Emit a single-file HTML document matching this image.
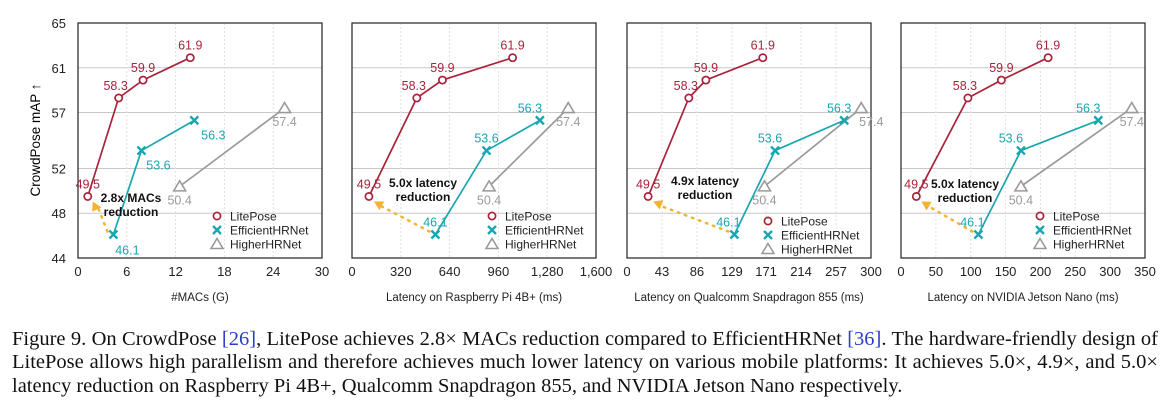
<!DOCTYPE html>
<html><head><meta charset="utf-8"><style>
html,body{margin:0;padding:0;background:#fff;width:1168px;height:408px;overflow:hidden}
svg text{font-family:"Liberation Sans",sans-serif}
#cap{position:absolute;left:12px;top:328px;width:1146px;font-family:"Liberation Serif",serif;font-size:20.5px;line-height:23.3px;color:#111}
#cap div{text-align:justify;text-align-last:justify;white-space:nowrap}
#cap div.last{text-align-last:left}
#cap a{color:#2a3ec8;text-decoration:none}
</style></head><body>
<svg id="chart" width="1168" height="320" style="position:absolute;left:0;top:0"></svg>
<div id="cap"><div>Figure 9. On CrowdPose <a>[26]</a>, LitePose achieves 2.8× MACs reduction compared to EfficientHRNet <a>[36]</a>. The hardware-friendly design of</div><div>LitePose allows high parallelism and therefore achieves much lower latency on various mobile platforms: It achieves 5.0×, 4.9×, and 5.0×</div><div class="last">latency reduction on Raspberry Pi 4B+, Qualcomm Snapdragon 855, and NVIDIA Jetson Nano respectively.</div></div>
<script>
const yLite=[49.5,58.3,59.9,61.9];
const yEff=[46.1,53.6,56.3];
const yHigh=[50.4,57.4];
const yTicks=[65,61,57,52,48,44];
const xLite1=[1.2,5.0,8.0,13.8], xEff1=[4.35,7.8,14.3], xHigh1=[12.5,25.4];
const xLite2=[111,425,593,1053], xEff2=[547,882,1232], xHigh2=[899,1418];
const xLite3=[26,76,97,167], xEff3=[132,182,267], xHigh3=[169,288];
const xLite4=[22,96,144,211], xEff4=[111,172,283], xHigh4=[172,331];
const xTicks1=[0,6,12,18,24,30], xTicks2=[0,320,640,960,1280,1600];
const xTicks3=[0,43,86,129,171,214,257,300], xTicks4=[0,50,100,150,200,250,300,350];
const xTickLabels2=["0","320","640","960","1,280","1,600"];
const titles=["#MACs (G)","Latency on Raspberry Pi 4B+ (ms)","Latency on Qualcomm Snapdragon 855 (ms)","Latency on NVIDIA Jetson Nano (ms)"];
const notes=[["2.8x MACs","reduction"],["5.0x latency","reduction"],["4.9x latency","reduction"],["5.0x latency","reduction"]];

const C={lite:"#a8243b",eff:"#1aa6b0",high:"#9a9a9a",arr:"#f2b330"};
const svg=document.getElementById('chart');
const NS="http://www.w3.org/2000/svg";
function mk(tag,at,parent){const e=document.createElementNS(NS,tag);for(const k in at)e.setAttribute(k,at[k]);(parent||svg).appendChild(e);return e;}
function txt(s,at,parent){const e=mk('text',at,parent);e.textContent=s;return e;}
const Y0=23,Y1=258,YMIN=44,YMAX=65;
const ys=v=>Y0+(YMAX-v)/(YMAX-YMIN)*(Y1-Y0);

const panels=[
 {x0:78,x1:322,max:30,ticks:xTicks1,labels:xTicks1.map(String),lite:xLite1,eff:xEff1,high:xHigh1,
  effOff:[[14,16],[17,15],[19,15]],highOff:[[0,18],[0,18]],note:[131,202],leg:[217,216]},
 {x0:352,x1:596,max:1600,ticks:xTicks2,labels:xTickLabels2,lite:xLite2,eff:xEff2,high:xHigh2,
  effOff:[[0,-12],[0,-12],[-10,-12]],highOff:[[0,18],[0,18]],note:[423,187],leg:[492,216]},
 {x0:627,x1:871,max:300,ticks:xTicks3,labels:xTicks3.map(String),lite:xLite3,eff:xEff3,high:xHigh3,
  effOff:[[-6,-12],[-5,-12],[-5,-12]],highOff:[[0,18],[10,18]],note:[705,185],leg:[768,221]},
 {x0:901,x1:1145,max:350,ticks:xTicks4,labels:xTicks4.map(String),lite:xLite4,eff:xEff4,high:xHigh4,
  effOff:[[-6,-12],[-10,-12],[-10,-12]],highOff:[[0,18],[0,18]],note:[965,188],leg:[1040,216]}
];
txt("CrowdPose mAP ↑",{x:0,y:0,'font-size':13.5,'text-anchor':'middle',transform:'translate(40,140) rotate(-90)',});
yTicks.forEach(t=>{const e=txt(String(t),{x:66,y:ys(t)+5,'font-size':13,'text-anchor':'end',fill:'#222'});
 
 });

function cross(g,x,y,c){mk('path',{d:`M${x-4} ${y-4}L${x+4} ${y+4}M${x-4} ${y+4}L${x+4} ${y-4}`,stroke:c,'stroke-width':2.4},g);}
function circ(g,x,y,c){mk('circle',{cx:x,cy:y,r:3.6,fill:'#fff',stroke:c,'stroke-width':1.7},g);}
function tri(g,x,y,c){mk('path',{d:`M${x} ${y-5.5}L${x+6} ${y+4.5}L${x-6} ${y+4.5}Z`,fill:'#fff',stroke:c,'stroke-width':1.6},g);}

panels.forEach((p,i)=>{
 const g=mk('g',{});
 
 
 const xs=v=>p.x0+v/p.max*(p.x1-p.x0);
 yTicks.slice(1,-1).forEach(t=>mk('line',{x1:p.x0,x2:p.x1,y1:ys(t),y2:ys(t),stroke:'#c8c8c8','stroke-width':1},g));
 p.ticks.slice(1,-1).forEach(t=>mk('line',{x1:xs(t),x2:xs(t),y1:Y0,y2:Y1,stroke:'#e2e2e2','stroke-width':1,'stroke-dasharray':'2 2'},g));
 mk('rect',{x:p.x0,y:Y0,width:p.x1-p.x0,height:Y1-Y0,fill:'none',stroke:'#222','stroke-width':1.2},g);
 p.ticks.forEach((t,k)=>{const e=txt(p.labels[k],{x:xs(t),y:276,'font-size':13,'text-anchor':'middle',fill:'#222'},g);
  
  });
 const tt=txt(titles[i],{x:(p.x0+p.x1)/2,y:301,'font-size':11.5,'text-anchor':'middle',fill:'#222'},g);
 
 
 const path=(xa,ya)=>xa.map((v,k)=>(k?'L':'M')+xs(v)+' '+ys(ya[k])).join('');
 const lh=mk('path',{d:path(p.high,yHigh),stroke:C.high,'stroke-width':1.7,fill:'none'},g);
 
 
 const le=mk('path',{d:path(p.eff,yEff),stroke:C.eff,'stroke-width':1.7,fill:'none'},g);
 
 
 const ll=mk('path',{d:path(p.lite,yLite),stroke:C.lite,'stroke-width':1.7,fill:'none'},g);
 
 
 const ax1=xs(p.eff[0])-6,ay1=ys(yEff[0])-3,ax2=xs(p.lite[0])+5,ay2=ys(yLite[0])+5;
 const ar=mk('line',{x1:ax1,y1:ay1,x2:ax2+4,y2:ay2+3,stroke:C.arr,'stroke-width':2.5,'stroke-dasharray':'1.5 6','stroke-linecap':'round'},g);
 
 
 const ang=Math.atan2(ay2-ay1,ax2-ax1);
 const hx=ax2,hy=ay2,L=9,W=5;
 const bx=hx-L*Math.cos(ang),by=hy-L*Math.sin(ang);
 mk('path',{d:`M${hx} ${hy}L${bx+W*Math.sin(ang)} ${by-W*Math.cos(ang)}L${bx-W*Math.sin(ang)} ${by+W*Math.cos(ang)}Z`,fill:C.arr},g);
 p.high.forEach((v,k)=>{tri(g,xs(v),ys(yHigh[k]),C.high);
  const e=txt(yHigh[k].toFixed(1),{x:xs(v)+p.highOff[k][0],y:ys(yHigh[k])+p.highOff[k][1],'font-size':12.5,'text-anchor':'middle',fill:C.high},g);
  
  });
 p.eff.forEach((v,k)=>{cross(g,xs(v),ys(yEff[k]),C.eff);
  const e=txt(yEff[k].toFixed(1),{x:xs(v)+p.effOff[k][0],y:ys(yEff[k])+p.effOff[k][1]+4,'font-size':12.5,'text-anchor':'middle',fill:C.eff},g);
  
  });
 p.lite.forEach((v,k)=>{circ(g,xs(v),ys(yLite[k]),C.lite);
  const e=txt(yLite[k].toFixed(1),{x:xs(v)-(k==1?3:0),y:ys(yLite[k])-8,'font-size':12.5,'text-anchor':'middle',fill:C.lite},g);
  
  });
 const n=txt('',{x:p.note[0],y:p.note[1],'font-size':12,'font-weight':'bold','text-anchor':'middle',fill:'#111'},g);
 
 
 notes[i].forEach((s,k)=>{const ts=mk('tspan',{x:p.note[0],dy:k?14:0},n);ts.textContent=s;});
 const lg=mk('g',{},g);
 
 
 const [lx,ly]=p.leg;
 circ(lg,lx,ly,C.lite);cross(lg,lx,ly+14,C.eff);tri(lg,lx,ly+28,C.high);
 ["LitePose","EfficientHRNet","HigherHRNet"].forEach((s,k)=>{const e=txt(s,{x:lx+13,y:ly+k*14+4.5,'font-size':12,fill:'#222'},lg);
  
  });
});
</script>
</body></html>
